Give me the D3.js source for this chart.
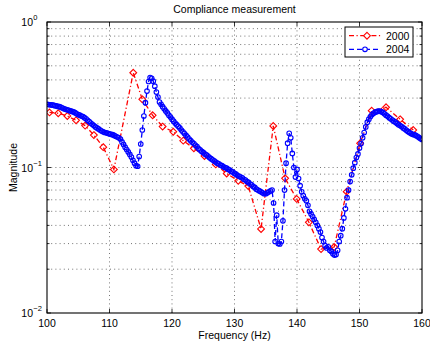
<!DOCTYPE html>
<html><head><meta charset="utf-8">
<script src="https://cdn.jsdelivr.net/npm/d3@7"></script>
<style>
body{margin:0;background:#fff}
svg{display:block}
text{font-family:"Liberation Sans",Arial,Helvetica,sans-serif;fill:#000}
</style>
</head><body>
<svg id="c" width="430" height="348"></svg>
<script>
// ---------- data ----------
const titleText = "Compliance measurement";
const xLabel = "Frequency (Hz)";
const yLabel = "Magnitude";
const seriesNames = ["2000", "2004"];
const xTicks = [100, 110, 120, 130, 140, 150, 160];
const yTicks = [0.01, 0.1, 1];
const yTickExp = ["\u22122", "\u22121", "0"];

const freq2000 = [100.4,101.8,103.25,104.65,106.1,107.5,109.0,110.7,113.8,115.25,116.9,118.5,120.2,121.8,123.5,125.2,127.0,128.75,130.6,132.2,134.25,136.2,138.1,139.95,141.9,143.85,145.95,147.95,150.1,151.95,154.25,156.5,158.6];
const mag2000 = [0.239,0.236,0.226,0.211,0.194,0.167,0.138,0.097,0.448,0.294,0.2285,0.191,0.176,0.153,0.1355,0.120,0.105,0.091,0.081,0.0746,0.0378,0.193,0.0843,0.0608,0.042,0.0275,0.0284,0.0682,0.1466,0.2457,0.2593,0.2144,0.181];

const freq2004 = [
100,100.25,100.5,100.75,101,101.25,101.5,101.75,102,102.25,102.5,102.75,103,103.25,103.5,103.75,
104,104.25,104.5,104.75,105,105.25,105.5,105.75,106,106.25,106.5,106.75,107,107.25,107.5,107.75,
108,108.25,108.5,108.75,109,109.25,109.5,109.75,110,110.25,110.5,110.75,111,111.25,111.5,111.75,
112,112.25,112.5,112.75,113,113.25,113.5,113.75,114,114.25,114.5,114.75,115,115.25,115.5,115.75,
116,116.25,116.5,116.75,117,117.25,117.5,117.75,118,118.25,118.5,118.75,119,119.25,119.5,119.75,
120,120.25,120.5,120.75,121,121.25,121.5,121.75,122,122.25,122.5,122.75,123,123.25,123.5,123.75,
124,124.25,124.5,124.75,125,125.25,125.5,125.75,126,126.25,126.5,126.75,127,127.25,127.5,127.75,
128,128.25,128.5,128.75,129,129.25,129.5,129.75,130,130.25,130.5,130.75,131,131.25,131.5,131.75,
132,132.25,132.5,132.75,133,133.25,133.5,133.75,134,134.25,134.5,134.75,135,135.25,135.5,135.75,
136,136.25,136.5,136.75,137,137.25,137.5,137.75,138,138.25,138.5,138.75,139,139.25,139.5,139.75,
140,140.25,140.5,140.75,141,141.25,141.5,141.75,142,142.25,142.5,142.75,143,143.25,143.5,143.75,
144,144.25,144.5,144.75,145,145.25,145.5,145.75,146,146.25,146.5,146.75,147,147.25,147.5,147.75,
148,148.25,148.5,148.75,149,149.25,149.5,149.75,150,150.25,150.5,150.75,151,151.25,151.5,151.75,
152,152.25,152.5,152.75,153,153.25,153.5,153.75,154,154.25,154.5,154.75,155,155.25,155.5,155.75,
156,156.25,156.5,156.75,157,157.25,157.5,157.75,158,158.25,158.5,158.75,159,159.25,159.5,159.75,
160];
const mag2004 = [
0.272,0.271,0.270,0.269, 0.268,0.266,0.265,0.263, 0.262,0.259,0.256,0.253, 0.251,0.249,0.247,0.245,
0.243,0.241,0.238,0.234, 0.231,0.229,0.226,0.224, 0.220,0.216,0.211,0.207, 0.202,0.198,0.194,0.190,
0.187,0.184,0.181,0.178, 0.176,0.174,0.173,0.172, 0.170,0.169,0.168,0.166, 0.164,0.162,0.160,0.157,
0.150,0.144,0.138,0.133, 0.128,0.123,0.118,0.112, 0.107,0.103,0.102,0.119, 0.145,0.181,0.226,0.279,
0.335,0.390,0.415,0.410, 0.392,0.362,0.330,0.305, 0.282,0.272,0.262,0.253, 0.245,0.237,0.229,0.222,
0.215,0.208,0.202,0.197, 0.192,0.187,0.181,0.176, 0.171,0.166,0.162,0.157, 0.153,0.149,0.146,0.142,
0.139,0.135,0.132,0.129, 0.127,0.124,0.122,0.120, 0.117,0.115,0.113,0.111, 0.109,0.107,0.106,0.104,
0.103,0.101,0.100,0.099, 0.097,0.096,0.094,0.093, 0.091,0.090,0.088,0.087, 0.086,0.085,0.083,0.082,
0.080,0.079,0.077,0.076, 0.074,0.073,0.071,0.070, 0.069,0.068,0.067,0.066, 0.066,0.067,0.068,0.069,
0.070,0.057,0.031,0.047, 0.030,0.0298,0.031,0.043, 0.070,0.107,0.147,0.172, 0.160,0.125,0.100,0.086,
0.097,0.084,0.075,0.068, 0.064,0.061,0.059,0.055, 0.050,0.048,0.046,0.044, 0.042,0.040,0.038,0.036,
0.033,0.031,0.029,0.028, 0.0285,0.027,0.0265,0.0255, 0.025,0.0252,0.027,0.031, 0.034,0.038,0.045,0.052,
0.062,0.070,0.080,0.089, 0.099,0.108,0.117,0.124, 0.136,0.146,0.160,0.174, 0.190,0.205,0.215,0.224,
0.231,0.236,0.240,0.242, 0.244,0.244,0.242,0.239, 0.234,0.229,0.225,0.220, 0.216,0.212,0.208,0.205,
0.201,0.197,0.194,0.191, 0.187,0.184,0.180,0.177, 0.174,0.171,0.169,0.168, 0.166,0.164,0.161,0.158,
0.156];

// ---------- layout ----------
const L = 47, R = 422, T = 22, B = 313;
const FS = 10.5;
const svg = d3.select("#c");
const x = d3.scaleLinear().domain([100, 160]).range([L, R]);
const y = d3.scaleLog().domain([0.01, 1]).range([B, T]);

svg.append("rect").attr("width", 430).attr("height", 348).attr("fill", "#fff");

// ---------- grid ----------
const grid = svg.append("g").attr("stroke", "#3a3a3a").attr("stroke-width", 0.7)
  .attr("stroke-dasharray", "1,3.2");
const allY = y.ticks();
grid.selectAll("line.h").data(allY.filter(v => v > 0.0100001 && v < 0.99999)).join("line")
  .attr("x1", L).attr("x2", R).attr("y1", d => y(d)).attr("y2", d => y(d));
grid.selectAll("line.v").data(xTicks.slice(1, -1)).join("line")
  .attr("y1", T).attr("y2", B).attr("x1", d => x(d)).attr("x2", d => x(d));

// ---------- ticks (inward, all four sides) ----------
const tk = svg.append("g").attr("stroke", "#000").attr("stroke-width", 0.8);
xTicks.forEach(v => {
  tk.append("line").attr("x1", x(v)).attr("x2", x(v)).attr("y1", B).attr("y2", B - 4);
  tk.append("line").attr("x1", x(v)).attr("x2", x(v)).attr("y1", T).attr("y2", T + 4);
});
allY.forEach(v => {
  const major = yTicks.some(t => Math.abs(t - v) < 1e-9);
  const len = major ? 4 : 2.5;
  tk.append("line").attr("x1", L).attr("x2", L + len).attr("y1", y(v)).attr("y2", y(v));
  tk.append("line").attr("x1", R).attr("x2", R - len).attr("y1", y(v)).attr("y2", y(v));
});

// ---------- series ----------
const d2000 = freq2000.map((f, i) => [f, mag2000[i]]);
const d2004 = freq2004.map((f, i) => [f, mag2004[i]]);
const line = d3.line().x(d => x(d[0])).y(d => y(d[1]));
const clip = svg.append("clipPath").attr("id", "clp").append("rect")
  .attr("x", L).attr("y", T).attr("width", R - L).attr("height", B - T);
const plot = svg.append("g").attr("clip-path", "url(#clp)");

const red = "#ff0000", blue = "#0000ff";
const diamond = s => `M0,${-s}L${s},0L0,${s}L${-s},0Z`;

// 2000 series
plot.append("path").datum(d2000).attr("d", line).attr("fill", "none")
  .attr("stroke", red).attr("stroke-width", 1.3).attr("stroke-dasharray", "5,2.5,1.2,2.5");
plot.selectAll("path.dm").data(d2000).join("path").attr("class", "dm")
  .attr("d", diamond(3.4)).attr("transform", d => `translate(${x(d[0])},${y(d[1])})`)
  .attr("fill", "none").attr("stroke", red).attr("stroke-width", 1.1);

// 2004 series
plot.append("path").datum(d2004).attr("d", line).attr("fill", "none")
  .attr("stroke", blue).attr("stroke-width", 1.3).attr("stroke-dasharray", "5,3");
plot.selectAll("circle.ci").data(d2004).join("circle").attr("class", "ci")
  .attr("cx", d => x(d[0])).attr("cy", d => y(d[1])).attr("r", 2.3)
  .attr("fill", "none").attr("stroke", blue).attr("stroke-width", 1.1);

// ---------- box ----------
svg.append("rect").attr("x", L).attr("y", T).attr("width", R - L).attr("height", B - T)
  .attr("fill", "none").attr("stroke", "#000").attr("stroke-width", 1.1);

// ---------- tick labels ----------
svg.selectAll("text.xt").data(xTicks).join("text").attr("class", "xt")
  .attr("x", d => x(d)).attr("y", 327).attr("text-anchor", "middle")
  .attr("font-size", FS).text(d => d);

yTicks.forEach((v, i) => {
  const t = svg.append("text").attr("x", 33).attr("y", y(v) + 4)
    .attr("text-anchor", "end").attr("font-size", FS).text("10");
  svg.append("text").attr("x", 33.3).attr("y", y(v) - 2)
    .attr("font-size", 7.5).text(yTickExp[i]);
});

// ---------- labels ----------
svg.append("text").attr("x", (L + R) / 2).attr("y", 12.5).attr("text-anchor", "middle")
  .attr("font-size", FS).text(titleText);
svg.append("text").attr("x", (L + R) / 2).attr("y", 339).attr("text-anchor", "middle")
  .attr("font-size", FS).text(xLabel);
svg.append("text").attr("transform", `translate(17,${(T + B) / 2}) rotate(-90)`)
  .attr("text-anchor", "middle").attr("font-size", FS).text(yLabel);

// ---------- legend ----------
const lg = svg.append("g");
lg.append("rect").attr("x", 345).attr("y", 27).attr("width", 68).attr("height", 30)
  .attr("fill", "#fff").attr("stroke", "#000").attr("stroke-width", 1);
const rows = [
  {name: seriesNames[0], color: red, dash: "5,2.5,1.2,2.5", mark: "d", yy: 35.7},
  {name: seriesNames[1], color: blue, dash: "5,3", mark: "c", yy: 49.3}
];
rows.forEach(r => {
  lg.append("line").attr("x1", 349).attr("x2", 381).attr("y1", r.yy).attr("y2", r.yy)
    .attr("stroke", r.color).attr("stroke-width", 1.3).attr("stroke-dasharray", r.dash);
  if (r.mark === "d") {
    lg.append("path").attr("d", diamond(3.4)).attr("transform", `translate(367,${r.yy})`)
      .attr("fill", "#fff").attr("stroke", r.color).attr("stroke-width", 1.1);
  } else {
    lg.append("circle").attr("cx", 365).attr("cy", r.yy).attr("r", 2.3)
      .attr("fill", "#fff").attr("stroke", r.color).attr("stroke-width", 1.1);
  }
  lg.append("text").attr("x", 386).attr("y", r.yy + 3.8).attr("font-size", FS).text(r.name);
});
</script>
</body></html>
